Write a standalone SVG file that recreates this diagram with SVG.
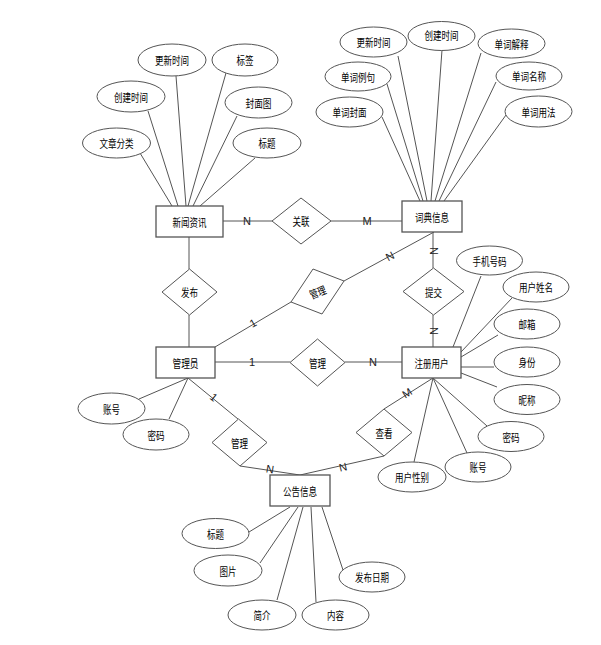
<svg xmlns="http://www.w3.org/2000/svg" width="601" height="645" viewBox="0 0 601 645">
<style>
.bg{fill:#fff}
.ent{fill:#fff;stroke:#555;stroke-width:1.3}
.rel{fill:#fff;stroke:#555;stroke-width:1}
.att{fill:#fff;stroke:#555;stroke-width:1}
.ln{stroke:#555;stroke-width:1;fill:none}
.t{font-family:"Noto Sans CJK SC","Liberation Sans",sans-serif;font-size:11px;fill:#000;text-anchor:middle;dominant-baseline:central}
.c{font-family:"Liberation Sans",sans-serif;font-size:11px;fill:#222;text-anchor:middle;dominant-baseline:central}
</style>
<rect class="bg" x="0" y="0" width="601" height="645"/>
<g id="connectors">
<!-- 新闻资讯 attributes -->
<line class="ln" x1="176" y1="76" x2="186" y2="206"/>
<line class="ln" x1="226" y1="73" x2="188" y2="206"/>
<line class="ln" x1="148" y1="111" x2="178" y2="206"/>
<line class="ln" x1="237" y1="116" x2="193" y2="206"/>
<line class="ln" x1="140" y1="153" x2="172" y2="206"/>
<line class="ln" x1="255" y1="158" x2="200" y2="206"/>
<!-- 词典信息 attributes -->
<line class="ln" x1="382" y1="117" x2="420" y2="201"/>
<line class="ln" x1="387" y1="84" x2="423" y2="201"/>
<line class="ln" x1="398" y1="56" x2="427" y2="201"/>
<line class="ln" x1="442" y1="50" x2="431" y2="201"/>
<line class="ln" x1="481" y1="53" x2="435" y2="201"/>
<line class="ln" x1="496" y1="82" x2="439" y2="201"/>
<line class="ln" x1="506" y1="115" x2="444" y2="201"/>
<!-- relations -->
<line class="ln" x1="223" y1="221" x2="272" y2="221"/>
<line class="ln" x1="331" y1="221" x2="402" y2="221"/>
<line class="ln" x1="189" y1="237" x2="189" y2="269"/>
<line class="ln" x1="189" y1="315" x2="189" y2="347"/>
<line class="ln" x1="215" y1="347" x2="291" y2="302"/>
<line class="ln" x1="344" y1="281" x2="434" y2="232"/>
<line class="ln" x1="433" y1="232" x2="433" y2="268"/>
<line class="ln" x1="433" y1="315" x2="433" y2="347"/>
<line class="ln" x1="215" y1="362" x2="290" y2="362"/>
<line class="ln" x1="345" y1="362" x2="402" y2="362"/>
<line class="ln" x1="188" y1="378" x2="238" y2="419"/>
<line class="ln" x1="240" y1="466" x2="300" y2="475"/>
<line class="ln" x1="384" y1="456" x2="300" y2="475"/>
<line class="ln" x1="384" y1="409" x2="433" y2="378"/>
<!-- 管理员 attributes -->
<line class="ln" x1="188" y1="378" x2="139" y2="399"/>
<line class="ln" x1="188" y1="378" x2="169" y2="419"/>
<!-- 注册用户 attributes -->
<line class="ln" x1="453" y1="347" x2="481" y2="276"/>
<line class="ln" x1="461" y1="352" x2="512" y2="298"/>
<line class="ln" x1="461" y1="357" x2="498" y2="335"/>
<line class="ln" x1="461" y1="367" x2="494" y2="367"/>
<line class="ln" x1="461" y1="373" x2="497" y2="387"/>
<line class="ln" x1="433" y1="378" x2="487" y2="426"/>
<line class="ln" x1="433" y1="378" x2="467" y2="453"/>
<line class="ln" x1="433" y1="378" x2="414" y2="462"/>
<!-- 公告信息 attributes -->
<line class="ln" x1="249" y1="532" x2="290" y2="507"/>
<line class="ln" x1="260" y1="563" x2="298" y2="507"/>
<line class="ln" x1="277" y1="600" x2="303" y2="507"/>
<line class="ln" x1="316" y1="602" x2="311" y2="507"/>
<line class="ln" x1="343" y1="570" x2="322" y2="507"/>
<!-- cardinality labels -->
<text class="c" x="247" y="221">N</text>
<text class="c" x="367" y="221">M</text>
<text class="c" transform="translate(253,323) rotate(-30)">1</text>
<text class="c" transform="translate(390,256) rotate(-28)">N</text>
<text class="c" transform="translate(434,251) rotate(90)">N</text>
<text class="c" transform="translate(434,331) rotate(90)">N</text>
<text class="c" x="252" y="362">1</text>
<text class="c" x="373" y="362">N</text>
<text class="c" transform="translate(214,397) rotate(39)">1</text>
<text class="c" transform="translate(270,469) rotate(9)">N</text>
<text class="c" transform="translate(343,467) rotate(-13)">N</text>
<text class="c" transform="translate(407,393) rotate(-32)">M</text>
</g>
<g id="e-news"><rect class="ent" x="156" y="206" width="67" height="31"/><text class="t" x="189.5" y="221.5" textLength="34" lengthAdjust="spacingAndGlyphs">新闻资讯</text></g>
<g id="e-dict"><rect class="ent" x="402" y="201" width="60" height="31"/><text class="t" x="432" y="216.5" textLength="34" lengthAdjust="spacingAndGlyphs">词典信息</text></g>
<g id="e-admin"><rect class="ent" x="156" y="347" width="59" height="31"/><text class="t" x="185.5" y="362.5" textLength="26" lengthAdjust="spacingAndGlyphs">管理员</text></g>
<g id="e-user"><rect class="ent" x="402" y="347" width="59" height="31"/><text class="t" x="431.5" y="362.5" textLength="34" lengthAdjust="spacingAndGlyphs">注册用户</text></g>
<g id="e-notice"><rect class="ent" x="270" y="475" width="60" height="31"/><text class="t" x="300" y="490.5" textLength="34" lengthAdjust="spacingAndGlyphs">公告信息</text></g>
<g id="r-assoc"><polygon class="rel" points="272,221 301,198 331,221 301,244"/><text class="t" x="301" y="221" textLength="17" lengthAdjust="spacingAndGlyphs">关联</text></g>
<g id="r-publish"><polygon class="rel" points="162,292 189.5,269 217,292 189.5,315"/><text class="t" x="189.5" y="292" textLength="17" lengthAdjust="spacingAndGlyphs">发布</text></g>
<g id="r-manage-dict"><polygon class="rel" points="291,302 313,269 344,281 322,314"/><text class="t" transform="translate(317.5,291.5) rotate(-22)" textLength="17" lengthAdjust="spacingAndGlyphs">管理</text></g>
<g id="r-submit"><polygon class="rel" points="403,291.5 433.5,268 464,291.5 433.5,315"/><text class="t" x="433.5" y="291.5" textLength="17" lengthAdjust="spacingAndGlyphs">提交</text></g>
<g id="r-manage-user"><polygon class="rel" points="290,362.5 317.5,339 345,362.5 317.5,386"/><text class="t" x="317.5" y="362.5" textLength="17" lengthAdjust="spacingAndGlyphs">管理</text></g>
<g id="r-manage-notice"><polygon class="rel" points="212,442.5 238.5,419 267,442.5 240,466"/><text class="t" x="239.5" y="442.5" textLength="17" lengthAdjust="spacingAndGlyphs">管理</text></g>
<g id="r-view"><polygon class="rel" points="356,432.5 384,409 412,432.5 384,456"/><text class="t" x="384" y="432.5" textLength="17" lengthAdjust="spacingAndGlyphs">查看</text></g>
<g id="a-news-update"><ellipse class="att" cx="172" cy="60" rx="34" ry="16"/><text class="t" x="172" y="60" textLength="34" lengthAdjust="spacingAndGlyphs">更新时间</text></g>
<g id="a-news-tag"><ellipse class="att" cx="245" cy="60" rx="33" ry="16"/><text class="t" x="245" y="60" textLength="17" lengthAdjust="spacingAndGlyphs">标签</text></g>
<g id="a-news-create"><ellipse class="att" cx="131" cy="96.5" rx="34" ry="15.5"/><text class="t" x="131" y="96.5" textLength="34" lengthAdjust="spacingAndGlyphs">创建时间</text></g>
<g id="a-news-cover"><ellipse class="att" cx="258.5" cy="102.5" rx="33.5" ry="15.5"/><text class="t" x="258.5" y="102.5" textLength="26" lengthAdjust="spacingAndGlyphs">封面图</text></g>
<g id="a-news-cat"><ellipse class="att" cx="116.5" cy="143" rx="34" ry="15"/><text class="t" x="116.5" y="143" textLength="34" lengthAdjust="spacingAndGlyphs">文章分类</text></g>
<g id="a-news-title"><ellipse class="att" cx="267" cy="143" rx="34" ry="15"/><text class="t" x="267" y="143" textLength="17" lengthAdjust="spacingAndGlyphs">标题</text></g>
<g id="a-dict-update"><ellipse class="att" cx="373.5" cy="42" rx="33.5" ry="15"/><text class="t" x="373.5" y="42" textLength="34" lengthAdjust="spacingAndGlyphs">更新时间</text></g>
<g id="a-dict-create"><ellipse class="att" cx="441.5" cy="36" rx="33.5" ry="14.5"/><text class="t" x="441.5" y="35" textLength="34" lengthAdjust="spacingAndGlyphs">创建时间</text></g>
<g id="a-dict-explain"><ellipse class="att" cx="511.5" cy="43.5" rx="33.5" ry="14.5"/><text class="t" x="511.5" y="43.5" textLength="34" lengthAdjust="spacingAndGlyphs">单词解释</text></g>
<g id="a-dict-example"><ellipse class="att" cx="358" cy="76.5" rx="33" ry="14.5"/><text class="t" x="358" y="76.5" textLength="34" lengthAdjust="spacingAndGlyphs">单词例句</text></g>
<g id="a-dict-name"><ellipse class="att" cx="529" cy="76" rx="33" ry="14"/><text class="t" x="529" y="76" textLength="34" lengthAdjust="spacingAndGlyphs">单词名称</text></g>
<g id="a-dict-cover"><ellipse class="att" cx="349.5" cy="112" rx="33.5" ry="15"/><text class="t" x="349.5" y="112" textLength="34" lengthAdjust="spacingAndGlyphs">单词封面</text></g>
<g id="a-dict-usage"><ellipse class="att" cx="538.5" cy="111.5" rx="33.5" ry="15.5"/><text class="t" x="538.5" y="111.5" textLength="34" lengthAdjust="spacingAndGlyphs">单词用法</text></g>
<g id="a-admin-account"><ellipse class="att" cx="111.5" cy="408.5" rx="33.5" ry="15.5"/><text class="t" x="111.5" y="408.5" textLength="17" lengthAdjust="spacingAndGlyphs">账号</text></g>
<g id="a-admin-pwd"><ellipse class="att" cx="156" cy="434.5" rx="33" ry="15.5"/><text class="t" x="156" y="434.5" textLength="17" lengthAdjust="spacingAndGlyphs">密码</text></g>
<g id="a-user-phone"><ellipse class="att" cx="489.5" cy="260.5" rx="33" ry="14.5"/><text class="t" x="489.5" y="260.5" textLength="34" lengthAdjust="spacingAndGlyphs">手机号码</text></g>
<g id="a-user-name"><ellipse class="att" cx="536" cy="287" rx="33" ry="15"/><text class="t" x="536" y="287" textLength="34" lengthAdjust="spacingAndGlyphs">用户姓名</text></g>
<g id="a-user-email"><ellipse class="att" cx="527" cy="324" rx="33" ry="15"/><text class="t" x="527" y="324" textLength="17" lengthAdjust="spacingAndGlyphs">邮箱</text></g>
<g id="a-user-role"><ellipse class="att" cx="527" cy="362" rx="33" ry="15"/><text class="t" x="527" y="362" textLength="17" lengthAdjust="spacingAndGlyphs">身份</text></g>
<g id="a-user-nick"><ellipse class="att" cx="527" cy="399.5" rx="33" ry="15"/><text class="t" x="527" y="399.5" textLength="17" lengthAdjust="spacingAndGlyphs">昵称</text></g>
<g id="a-user-pwd"><ellipse class="att" cx="511" cy="436.5" rx="33" ry="15"/><text class="t" x="511" y="436.5" textLength="17" lengthAdjust="spacingAndGlyphs">密码</text></g>
<g id="a-user-account"><ellipse class="att" cx="478" cy="467" rx="33" ry="15"/><text class="t" x="478" y="467" textLength="17" lengthAdjust="spacingAndGlyphs">账号</text></g>
<g id="a-user-gender"><ellipse class="att" cx="412" cy="477" rx="34" ry="15"/><text class="t" x="412" y="477" textLength="34" lengthAdjust="spacingAndGlyphs">用户性别</text></g>
<g id="a-notice-title"><ellipse class="att" cx="215.5" cy="533.5" rx="33.5" ry="15"/><text class="t" x="215.5" y="533.5" textLength="17" lengthAdjust="spacingAndGlyphs">标题</text></g>
<g id="a-notice-img"><ellipse class="att" cx="228" cy="570.5" rx="34" ry="15.5"/><text class="t" x="228" y="570.5" textLength="17" lengthAdjust="spacingAndGlyphs">图片</text></g>
<g id="a-notice-intro"><ellipse class="att" cx="262" cy="615" rx="34" ry="15"/><text class="t" x="262" y="615" textLength="17" lengthAdjust="spacingAndGlyphs">简介</text></g>
<g id="a-notice-content"><ellipse class="att" cx="335.5" cy="615" rx="33.5" ry="15"/><text class="t" x="335.5" y="615" textLength="17" lengthAdjust="spacingAndGlyphs">内容</text></g>
<g id="a-notice-date"><ellipse class="att" cx="372" cy="577" rx="33" ry="15"/><text class="t" x="372" y="577" textLength="34" lengthAdjust="spacingAndGlyphs">发布日期</text></g>
</svg>
